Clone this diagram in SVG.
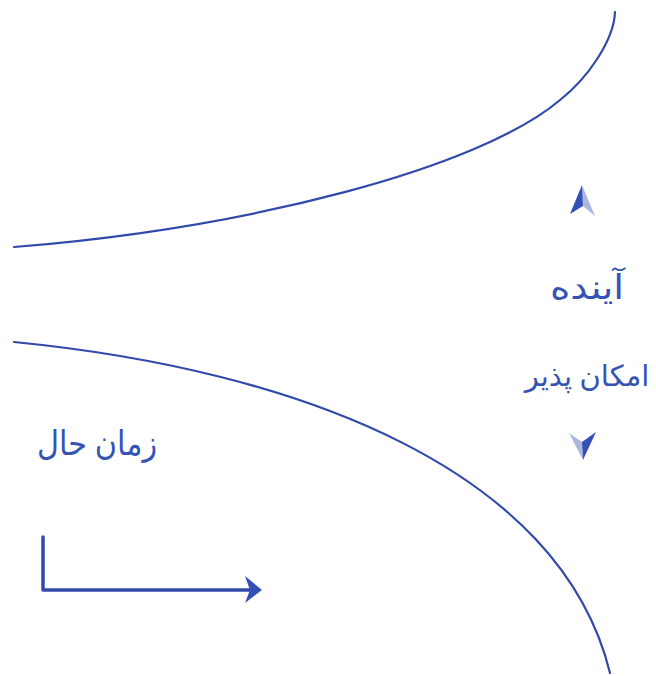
<svg xmlns="http://www.w3.org/2000/svg" width="656" height="676" viewBox="0 0 656 676">
<style>
.c{fill:none;stroke:#3049ab;stroke-width:2.2;stroke-linecap:round;stroke-linejoin:round}
.t{font-family:"Noto Sans","DejaVu Sans",sans-serif;font-size:34px;fill:#3553b3;text-anchor:middle}
.s{font-size:29px}
.dk{fill:#3350b4}
.lt{fill:#aab7de}
</style>
<rect width="656" height="676" fill="#ffffff"/>
<g id="connectors">
<path id="upper-curve" class="c" d="M14,247 C250,228 480,168 560,100 C588,78 614,40 615,12"/>
<path id="lower-curve" class="c" d="M14,342 C300,370 560,470 610,673"/>
<path id="time-arrow" class="c" d="M43,537 L43,590 L250,590" style="stroke-width:3.5px"/>
<path class="dk" d="M262,590 L245,576 L250,590 L245,603 Z"/>
<path class="lt" d="M582,185 L595,216 L583,206 Z"/>
<path class="dk" d="M582,185 L570,214 L583,206 Z"/>
<path class="lt" d="M583,460 L569,433 L582,442 Z"/>
<path class="dk" d="M583,460 L596,432 L582,442 Z"/>
</g>
<g id="future"><text class="t" x="587" y="299" textLength="74" lengthAdjust="spacingAndGlyphs">آینده</text></g>
<g id="possible"><text class="t s" x="587" y="386">امکان پذیر</text></g>
<g id="present"><text class="t" x="97" y="455" textLength="120" lengthAdjust="spacingAndGlyphs">زمان حال</text></g>
</svg>
